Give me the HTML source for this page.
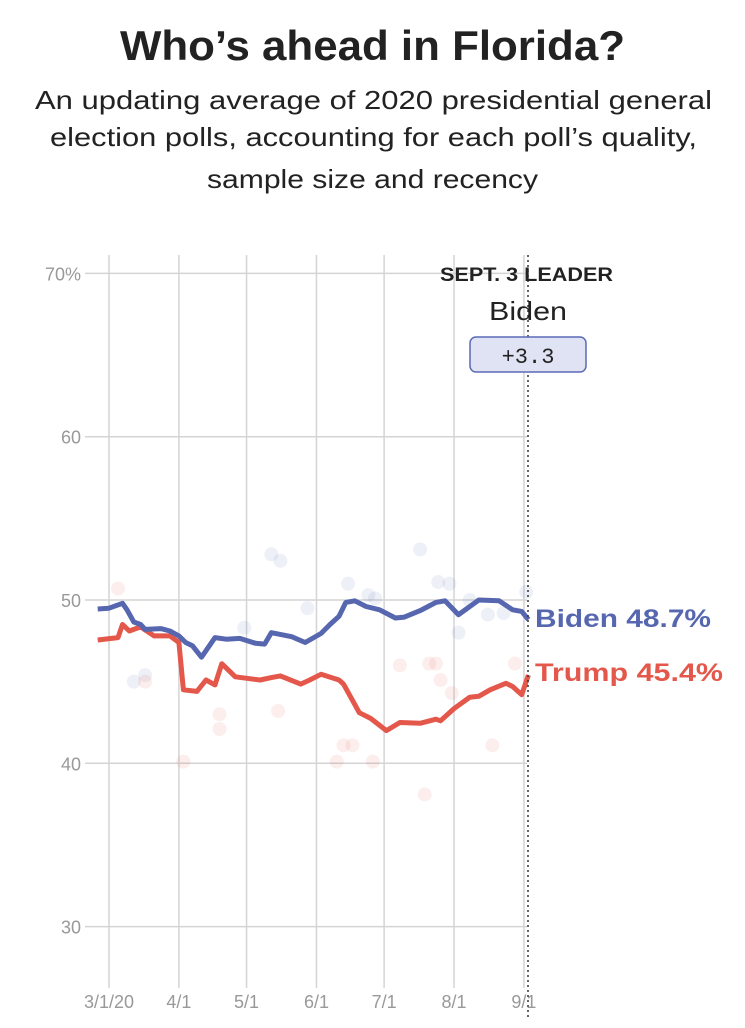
<!DOCTYPE html>
<html><head><meta charset="utf-8"><style>
html,body{margin:0;padding:0;background:#fff;}
body{width:745px;height:1023px;overflow:hidden;font-family:"Liberation Sans",sans-serif;}
</style></head><body>
<svg id="chart" width="745" height="1023" xmlns="http://www.w3.org/2000/svg">
<text x="120" y="60" textLength="505" lengthAdjust="spacingAndGlyphs" font-size="42" font-weight="bold" fill="#222" font-family="Liberation Sans, sans-serif">Who’s ahead in Florida?</text>
<g font-size="26" fill="#222">
<text x="35" y="109" textLength="677" lengthAdjust="spacingAndGlyphs">An updating average of 2020 presidential general</text>
<text x="50" y="146" textLength="647" lengthAdjust="spacingAndGlyphs">election polls, accounting for each poll’s quality,</text>
<text x="207" y="188" textLength="331" lengthAdjust="spacingAndGlyphs">sample size and recency</text>
</g>
<g id="grid"></g><g id="dots"></g><g id="lines"></g><g id="labels"></g>
<line x1="528" y1="255" x2="528" y2="1018" stroke="#333" stroke-width="1.5" stroke-dasharray="2,3"/>
<text x="440" y="281" textLength="173" lengthAdjust="spacingAndGlyphs" font-size="19" font-weight="bold" fill="#222">SEPT. 3 LEADER</text>
<text x="489" y="320" textLength="78" lengthAdjust="spacingAndGlyphs" font-size="26" fill="#222">Biden</text>
<rect x="470" y="337" width="116" height="35" rx="6" fill="#dfe3f4" stroke="#5a6bb5" stroke-width="1.5"/>
<text x="528" y="363" text-anchor="middle" font-size="22" fill="#222" font-family="Liberation Mono, monospace">+3.3</text>
<text x="535" y="627" textLength="176" lengthAdjust="spacingAndGlyphs" font-size="25" font-weight="bold" fill="#5667b0">Biden 48.7%</text>
<text x="535" y="681" textLength="188" lengthAdjust="spacingAndGlyphs" font-size="25" font-weight="bold" fill="#e4574b">Trump 45.4%</text>
</svg>
<script>
const yTicks=[70,60,50,40,30];
const yTickLabels=["70%","60","50","40","30"];
const xTickDays=[0,31,61,92,122,153,184];
const xTickLabels=["3/1/20","4/1","5/1","6/1","7/1","8/1","9/1"];
const bidenDays=[-5,0,6,8,11,14,16,23,27,31,34,37,41,47,52,58,65,69,72,81,87,94,98,102,105,109,114,120,127,131,138,145,149,155,164,173,179,183,186];
const bidenVals=[49.45,49.5,49.8,49.4,48.65,48.5,48.2,48.25,48.1,47.8,47.4,47.2,46.5,47.7,47.6,47.65,47.35,47.3,48.0,47.75,47.4,47.95,48.5,49.0,49.85,49.95,49.6,49.4,48.9,48.95,49.35,49.85,49.95,49.1,50.0,49.95,49.4,49.3,48.8];
const trumpDays=[-5,4,6,9,14,20,27,31,33,39,43,47,50,56,67,72,76,85,89,94,102,104,111,116,123,129,138,145,147,153,160,164,169,176,179,183,186];
const trumpVals=[47.55,47.7,48.5,48.1,48.35,47.8,47.8,47.4,44.5,44.4,45.1,44.8,46.1,45.3,45.1,45.25,45.35,44.85,45.1,45.45,45.1,44.85,43.1,42.75,42.0,42.5,42.45,42.7,42.6,43.35,44.05,44.1,44.5,44.9,44.7,44.2,45.4];
const bidenPollDays=[11,72,76,106,115,118,138,146,151,155,160,168,175,185,16,60,88];
const bidenPollVals=[45,52.8,52.4,51,50.3,50.1,53.1,51.1,51,48,50,49.1,49.2,50.5,45.4,48.3,49.5];
const trumpPollDays=[4,16,33,49,49,75,101,104,108,117,129,140,142,145,147,152,170,180];
const trumpPollVals=[50.7,45,40.1,42.1,43,43.2,40.1,41.1,41.1,40.1,46,38.1,46.1,46.1,45.1,44.3,41.1,46.1];
const NS="http://www.w3.org/2000/svg";
const X=d=>109+d*2.255, Y=v=>600-(v-50)*16.33;
function mk(t,a,p){const e=document.createElementNS(NS,t);for(const k in a)e.setAttribute(k,a[k]);document.getElementById(p).appendChild(e);return e;}
yTicks.forEach((v,i)=>{
 const l=mk('line',{x1:85,x2:527,y1:Y(v),y2:Y(v),stroke:'#d4d4d4','stroke-width':1.5},'grid');
 
 
 const t=mk('text',{x:81,y:Y(v)+7,'text-anchor':'end','font-size':18,fill:'#999'},'grid');
 t.textContent=yTickLabels[i];
 
 
});
xTickDays.forEach((d,i)=>{
 const l=mk('line',{x1:X(d),x2:X(d),y1:255,y2:988,stroke:'#d4d4d4','stroke-width':1.5},'grid');
 
 
 const t=mk('text',{x:X(d),y:1008,'text-anchor':'middle','font-size':18,fill:'#999'},'grid');
 t.textContent=xTickLabels[i];
 
 
});
bidenPollDays.forEach((d,i)=>{
 const c=mk('circle',{cx:X(d),cy:Y(bidenPollVals[i]),r:7,fill:'#5667b0','fill-opacity':0.1},'dots');
 
 
});
trumpPollDays.forEach((d,i)=>{
 const c=mk('circle',{cx:X(d),cy:Y(trumpPollVals[i]),r:7,fill:'#e4574b','fill-opacity':0.1},'dots');
 
 
});
function path(days,vals){return days.map((d,i)=>(i?'L':'M')+X(d).toFixed(1)+','+Y(vals[i]).toFixed(1)).join('');}
const tp=mk('path',{d:path(trumpDays,trumpVals),fill:'none',stroke:'#e4574b','stroke-width':5,'stroke-linejoin':'round'},'lines');


const bp=mk('path',{d:path(bidenDays,bidenVals),fill:'none',stroke:'#5667b0','stroke-width':5,'stroke-linejoin':'round'},'lines');


</script>
</body></html>
